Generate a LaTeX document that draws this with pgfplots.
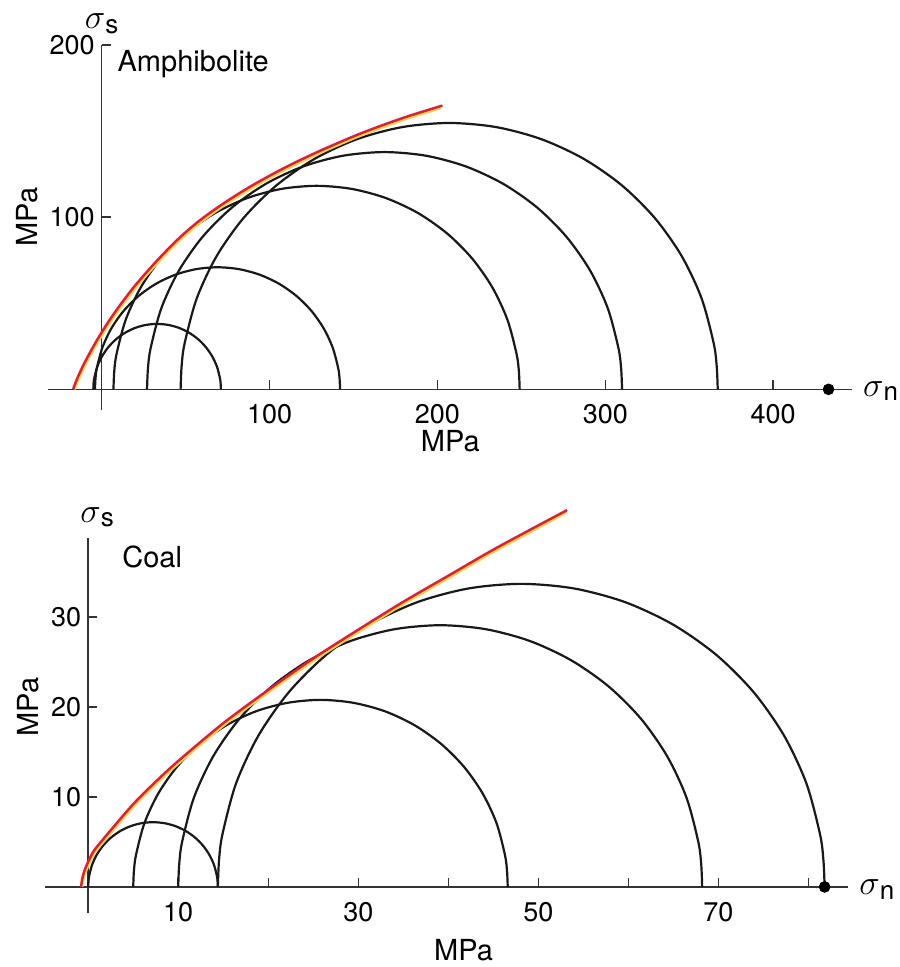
\documentclass[border=0pt]{standalone}
\usepackage{fontspec}
\setmainfont{TeX Gyre Heros}
\usepackage{pgfplots}
\pgfplotsset{compat=1.18}
\definecolor{envred}{RGB}{210,36,62}
\definecolor{envyel}{RGB}{246,205,70}
\newcommand{\sig}[1]{{\fontsize{17}{19}\selectfont$\sigma$}{\fontsize{13}{15}\selectfont\raisebox{-0.35ex}{#1}}}
\pgfplotsset{
  mohr/.style={
    scale only axis,
    axis lines=middle,
    axis line style={-, line width=0.75pt, black!80},
    tick style={line width=0.75pt, black!80},
    major tick length=4.5pt,
    tick align=inside,
    clip=false,
    /pgf/number format/assume math mode=true,
    ticklabel style={font=\fontsize{13.5}{16}\selectfont},
    xticklabel style={yshift=-4pt},
  },
  circ/.style={black!90, line width=1.1pt, smooth, no markers},
  envR/.style={envred, line width=1.25pt, smooth, no markers},
  envY/.style={envyel, line width=1.25pt, smooth, no markers},
}
\begin{document}
\begin{tikzpicture}[font=\fontsize{14.5}{17}\selectfont]
\useasboundingbox (-24pt,-278.5pt) rectangle (425.5pt,205pt);
% ---------------- Amphibolite ----------------
\begin{axis}[mohr, at={(0,0)}, anchor=south west,
  width=402pt, height=182.5pt,
  xmin=-32, xmax=447, ymin=-12, ymax=200,
  xtick={100,200,300,400}, ytick={100,200}]
\addplot[circ] coordinates {(71,0) (70.86,3.31) (70.42,6.60) (68.71,13.00) (65.91,19) (62.11,24.43) (57.43,29.11) (52,32.91) (46,35.71) (39.60,37.42) (33,38) (26.40,37.42) (20,35.71) (14,32.91) (8.57,29.11) (3.89,24.43) (0.09,19) (-2.71,13.00) (-4.42,6.60) (-4.86,3.31) (-5,0)};
\addplot[circ] coordinates {(142,0) (141.72,6.18) (140.89,12.31) (137.60,24.25) (132.22,35.45) (124.92,45.57) (115.92,54.31) (105.5,61.40) (93.97,66.62) (81.67,69.82) (69,70.9) (56.33,69.82) (44.03,66.62) (32.5,61.40) (22.08,54.31) (13.08,45.57) (5.78,35.45) (0.40,24.25) (-2.89,12.31) (-3.72,6.18) (-4,0)};
\addplot[circ] coordinates {(249,0) (248.54,10.31) (247.16,20.52) (241.70,40.42) (232.79,59.1) (220.69,75.98) (205.78,90.54) (188.5,102.36) (169.38,111.07) (149.01,116.40) (128,118.2) (106.99,116.40) (86.62,111.07) (67.5,102.36) (50.22,90.54) (35.31,75.98) (23.21,59.1) (14.30,40.42) (8.84,20.52) (7.46,10.31) (7,0)};
\addplot[circ] coordinates {(310,0) (309.46,12.02) (307.85,23.92) (301.47,47.13) (291.04,68.9) (276.89,88.58) (259.46,105.55) (239.25,119.33) (216.89,129.49) (193.06,135.71) (168.5,137.8) (143.94,135.71) (120.11,129.49) (97.75,119.33) (77.54,105.55) (60.11,88.58) (45.96,68.9) (35.53,47.13) (29.15,23.92) (27.54,12.02) (27,0)};
\addplot[circ] coordinates {(367,0) (366.39,13.49) (364.57,26.86) (357.35,52.91) (345.56,77.35) (329.56,99.44) (309.85,118.50) (287,133.97) (261.72,145.37) (234.78,152.35) (207,154.7) (179.22,152.35) (152.28,145.37) (127,133.97) (104.15,118.50) (84.44,99.44) (68.44,77.35) (56.65,52.91) (49.43,26.86) (47.61,13.49) (47,0)};
\addplot[envY] coordinates {(-16.4,0) (-15.4,2.0) (-13.4,6.6) (-8.9,15.8) (-1.4,28.9) (4.6,38.2) (11.6,48.0) (20.6,59.4) (30.6,70.6) (40.6,80.9) (49.6,89.4) (60.6,98.3) (74.6,107.9) (90.6,117.6) (110.6,128.2) (130.6,137.5) (155.6,147.9) (180,156.6) (202,163.4)};
\addplot[envR] coordinates {(-17,0) (-16,2.8) (-14,7.6) (-9.5,16.8) (-2,29.9) (4,39.2) (11,49.0) (20,60.4) (30,71.6) (40,81.9) (49,90.4) (60,99.3) (74,108.9) (90,118.6) (110,129.2) (130,138.5) (155,148.9) (180,157.8) (203,164.8)};
\addplot[only marks, mark=*, mark size=2.7pt, black] coordinates {(433,0)};
\node at (axis cs:0,212.5) {\sig{s}};
\node at (axis cs:464,-1) {\sig{n}};
\node at (axis cs:54.5,188.7) {Amphibolite};
\node[rotate=90] at (axis cs:-44.4,100) {MPa};
\node at (axis cs:207.7,-30.2) {MPa};
\end{axis}
% ---------------- Coal ----------------
\begin{axis}[mohr, at={(-1.5pt,-251.5pt)}, anchor=south west,
  width=401.5pt, height=187.5pt,
  xmin=-4.8, xmax=84.4, ymin=-2.9, ymax=38.8,
  xtick={10,20,30,40,50,60,70,80}, xticklabels={10,,30,,50,,70,},
  ytick={10,20,30}]
\addplot[circ] coordinates {(14.4,0) (14.37,0.63) (14.29,1.25) (13.97,2.46) (13.44,3.6) (12.72,4.63) (11.83,5.52) (10.8,6.24) (9.66,6.77) (8.45,7.09) (7.2,7.2) (5.95,7.09) (4.74,6.77) (3.6,6.24) (2.57,5.52) (1.68,4.63) (0.96,3.6) (0.43,2.46) (0.11,1.25) (0.03,0.63) (0,0)};
\addplot[circ] coordinates {(46.6,0) (46.52,1.81) (46.28,3.61) (45.35,7.11) (43.81,10.4) (41.73,13.37) (39.17,15.93) (36.2,18.01) (32.91,19.55) (29.41,20.48) (25.8,20.8) (22.19,20.48) (18.69,19.55) (15.4,18.01) (12.43,15.93) (9.87,13.37) (7.79,10.4) (6.25,7.11) (5.32,3.61) (5.08,1.81) (5,0)};
\addplot[circ] coordinates {(68.2,0) (68.09,2.54) (67.76,5.05) (66.45,9.95) (64.3,14.55) (61.39,18.71) (57.81,22.29) (53.65,25.2) (49.05,27.35) (44.15,28.66) (39.1,29.1) (34.05,28.66) (29.15,27.35) (24.55,25.2) (20.39,22.29) (16.81,18.71) (13.9,14.55) (11.75,9.95) (10.44,5.05) (10.11,2.54) (10,0)};
\addplot[circ] coordinates {(81.8,0) (81.67,2.94) (81.29,5.85) (79.77,11.53) (77.28,16.85) (73.91,21.66) (69.76,25.81) (64.95,29.18) (59.63,31.67) (53.95,33.19) (48.1,33.7) (42.25,33.19) (36.57,31.67) (31.25,29.18) (26.44,25.81) (22.29,21.66) (18.92,16.85) (16.43,11.53) (14.91,5.85) (14.53,2.94) (14.4,0)};
\addplot[envY] coordinates {(-0.7,0) (-0.5,1.0) (-0.2,1.9) (0.1,2.6) (0.6,3.6) (1.1,4.3) (2.6,6.1) (5.1,9.0) (7.6,11.5) (10.1,13.8) (15.1,18.0) (20.1,21.7) (25.1,25.2) (30.1,28.4) (35.1,31.5) (40.1,34.4) (45.1,37.3) (50.1,40.0) (53.2,41.7)};
\addplot[envR] coordinates {(-0.8,0) (-0.6,1.2) (-0.3,2.1) (0,2.8) (0.5,3.8) (1,4.5) (2.5,6.3) (5,9.2) (7.5,11.7) (10,14.0) (15,18.2) (20,21.9) (25,25.4) (30,28.6) (35,31.7) (40,34.6) (45,37.5) (50,40.2) (53.2,41.9)};
\addplot[only marks, mark=*, mark size=2.7pt, black] coordinates {(81.8,0)};
\node at (axis cs:1.0,41.1) {\sig{s}};
\node at (axis cs:87.6,-0.3) {\sig{n}};
\node at (axis cs:7.1,36.7) {Coal};
\node[rotate=90] at (axis cs:-6.7,20) {MPa};
\node at (axis cs:41.7,-7) {MPa};
\end{axis}
\end{tikzpicture}
\end{document}
